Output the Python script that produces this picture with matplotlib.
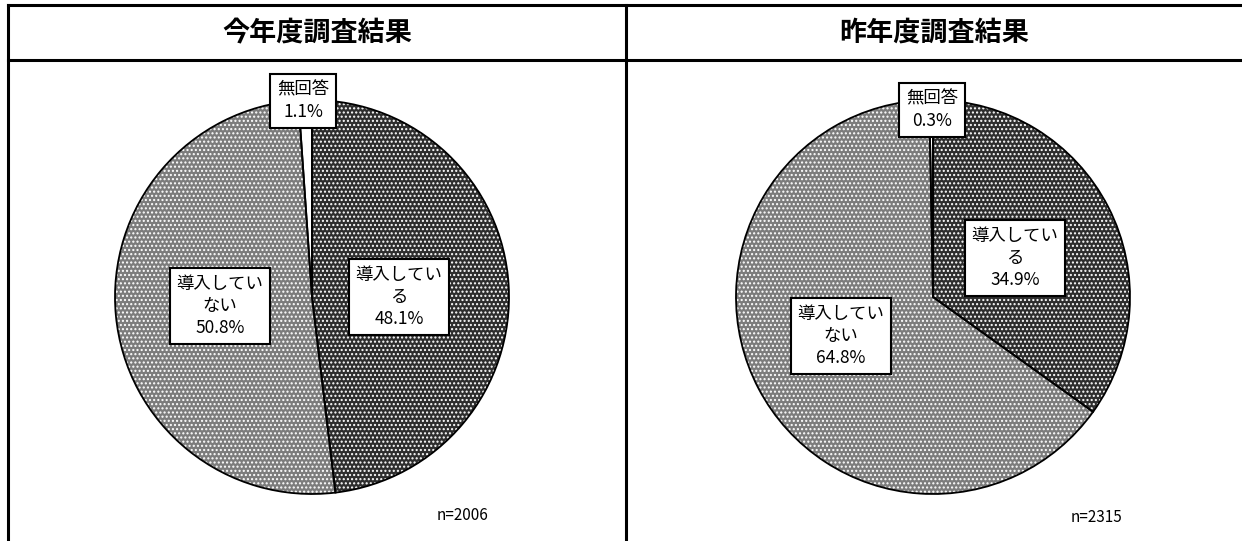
import matplotlib.pyplot as plt
from matplotlib.lines import Line2D

plt.rcParams['font.family'] = ['Noto Sans CJK JP', 'DejaVu Sans']
plt.rcParams['hatch.linewidth'] = 1.0

W, H = 1242, 541

titles = ['今年度調査結果', '昨年度調査結果']
categories = ['導入している', '導入していない', '無回答']
this_year = [48.1, 50.8, 1.1]
last_year = [34.9, 64.8, 0.3]
n_labels = ['n=2006', 'n=2315']
colors = ['#2e2e2e', '#7c7c7c', '#ffffff']
hatches = ['....', '....', '']

label_text = {
    '導入している': '導入してい\nる\n{:.1f}%',
    '導入していない': '導入してい\nない\n{:.1f}%',
    '無回答': '無回答\n{:.1f}%',
}

fig = plt.figure(figsize=(W / 100, H / 100), dpi=100)
ax = fig.add_axes([0, 0, 1, 1])


def py(y):
    return H - y


# frame lines
for xs, ys in [([8, 8], [5, 560]), ([626, 626], [5, 560]),
               ([8, 1260], [5, 5]), ([8, 1260], [60, 60])]:
    ax.add_line(Line2D(xs, [py(v) for v in ys], color='black', lw=2.2))

centers = [(312, 297), (933, 297)]
title_x = [317, 934]
label_pos = [
    [(399, 297), (220, 306), (303, 101)],
    [(1015, 258), (841, 336), (932, 110)],
]
n_pos = [(463, 515), (1097, 517)]

for i, vals in enumerate([this_year, last_year]):
    cx, cy = centers[i]
    # textured fill (hatch drawn in white), then black outlines on top
    wedges, _ = ax.pie(vals, colors=colors, startangle=90, counterclock=False,
                       center=(cx, py(cy)), radius=197,
                       wedgeprops=dict(edgecolor='white', linewidth=0),
                       frame=True)
    for w, h in zip(wedges, hatches):
        w.set_hatch(h)
    ax.pie(vals, colors=['none'] * 3, startangle=90, counterclock=False,
           center=(cx, py(cy)), radius=197,
           wedgeprops=dict(edgecolor='black', linewidth=1.3), frame=True)
    ax.text(title_x[i], py(33), titles[i], ha='center', va='center',
            fontsize=19.5, fontweight='bold')
    for cat, v, (lx, ly) in zip(categories, vals, label_pos[i]):
        ax.text(lx, py(ly), label_text[cat].format(v), ha='center', va='center',
                fontsize=12.5, linespacing=1.3,
                bbox=dict(boxstyle='square,pad=0.4', facecolor='white',
                          edgecolor='black', linewidth=1.5))
    ax.text(n_pos[i][0], py(n_pos[i][1]), n_labels[i], ha='center', va='center',
            fontsize=11)

ax.set_xlim(0, W)
ax.set_ylim(0, H)
ax.set_aspect('equal')
ax.axis('off')

fig.savefig('out.png', dpi=100)
